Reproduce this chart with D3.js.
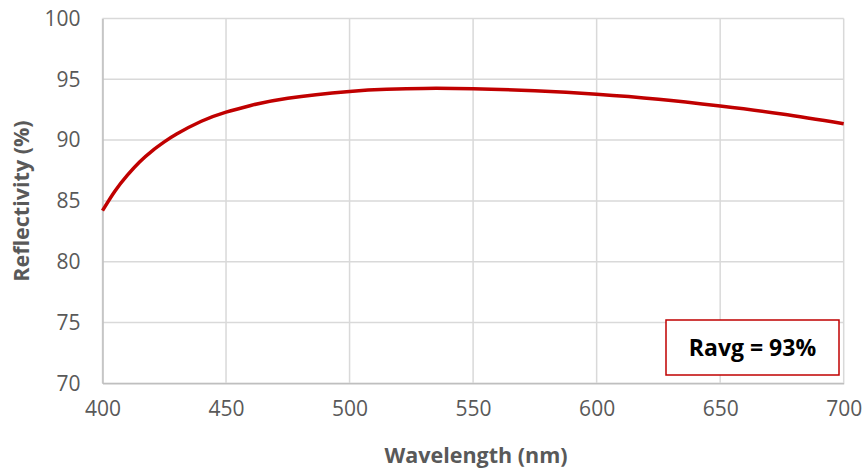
<!DOCTYPE html>
<html>
<head>
<meta charset="utf-8">
<script src="https://cdn.jsdelivr.net/npm/d3@7"></script>
<style>
  body { margin: 0; background: #fff; }
  text { font-family: "Open Sans", sans-serif; }
</style>
</head>
<body>
<div id="chart"></div>
<script>
// reflectivity curve
const wavelengths = [400, 405, 410, 415, 420, 425, 430, 440, 450, 460, 475, 500, 515, 530, 550, 575, 600, 625, 650, 675, 700];
const reflectivity = [84.2, 85.8, 87.1, 88.2, 89.1, 89.85, 90.5, 91.55, 92.3, 92.85, 93.45, 94.0, 94.18, 94.25, 94.22, 94.05, 93.77, 93.36, 92.8, 92.15, 91.35];
const xTicks = [400, 450, 500, 550, 600, 650, 700];
const yTicks = [70, 75, 80, 85, 90, 95, 100];
const avgLabel = "Ravg = 93%";

const W = 864, H = 469;
const margin = {top: 18.5, right: 20, bottom: 86, left: 102.5};
const width = 843.7 - margin.left,
      height = 383.3 - margin.top;

const svg = d3.select("#chart").append("svg")
    .attr("width", W).attr("height", H);
const g = svg.append("g")
    .attr("transform", "translate(" + margin.left + "," + margin.top + ")");

const x = d3.scaleLinear().domain([400, 700]).range([0, width]);
const y = d3.scaleLinear().domain([70, 100]).range([height, 0]);

// gridlines
g.append("g").selectAll("line").data(xTicks).enter().append("line")
    .attr("x1", d => x(d)).attr("x2", d => x(d))
    .attr("y1", 0).attr("y2", height)
    .attr("stroke", "#d9d9d9").attr("stroke-width", 1.5);
g.append("g").selectAll("line").data(yTicks).enter().append("line")
    .attr("x1", 0).attr("x2", width)
    .attr("y1", d => y(d)).attr("y2", d => y(d))
    .attr("stroke", "#d9d9d9").attr("stroke-width", 1.5);

// axes
const xAxis = g.append("g")
    .attr("transform", "translate(0," + height + ")")
    .call(d3.axisBottom(x).tickValues(xTicks).tickSize(0).tickPadding(18));
const yAxis = g.append("g")
    .call(d3.axisLeft(y).tickValues(yTicks).tickSize(0).tickPadding(22));
[xAxis, yAxis].forEach(a => {
  a.select(".domain").attr("stroke", "#bfbfbf").attr("stroke-width", 1.5);
  a.selectAll("text").attr("font-family", "Open Sans").attr("font-size", 21).attr("fill", "#595959");
});

// curve
const line = d3.line()
    .x((d, i) => x(wavelengths[i]))
    .y(d => y(d))
    .curve(d3.curveNatural);
g.append("path")
    .datum(reflectivity)
    .attr("d", line)
    .attr("fill", "none")
    .attr("stroke", "#c00000")
    .attr("stroke-width", 3.5);

// average box
const box = svg.append("g").attr("transform", "translate(666,320)");
box.append("rect")
    .attr("width", 173).attr("height", 55)
    .attr("fill", "#fff").attr("stroke", "#c00000").attr("stroke-width", 1.5);
box.append("text")
    .attr("x", 86.5).attr("y", 28).attr("dy", "0.35em")
    .attr("text-anchor", "middle")
    .attr("font-size", 23).attr("font-weight", "bold").attr("fill", "#000")
    .text(avgLabel);

// axis titles
svg.append("text")
    .attr("x", 476).attr("y", 463)
    .attr("text-anchor", "middle")
    .attr("font-size", 21.5).attr("font-weight", "bold").attr("fill", "#595959")
    .text("Wavelength (nm)");
svg.append("text")
    .attr("transform", "translate(29,201) rotate(-90)")
    .attr("text-anchor", "middle")
    .attr("font-size", 21.5).attr("font-weight", "bold").attr("fill", "#595959")
    .text("Reflectivity (%)");
</script>
</body>
</html>
